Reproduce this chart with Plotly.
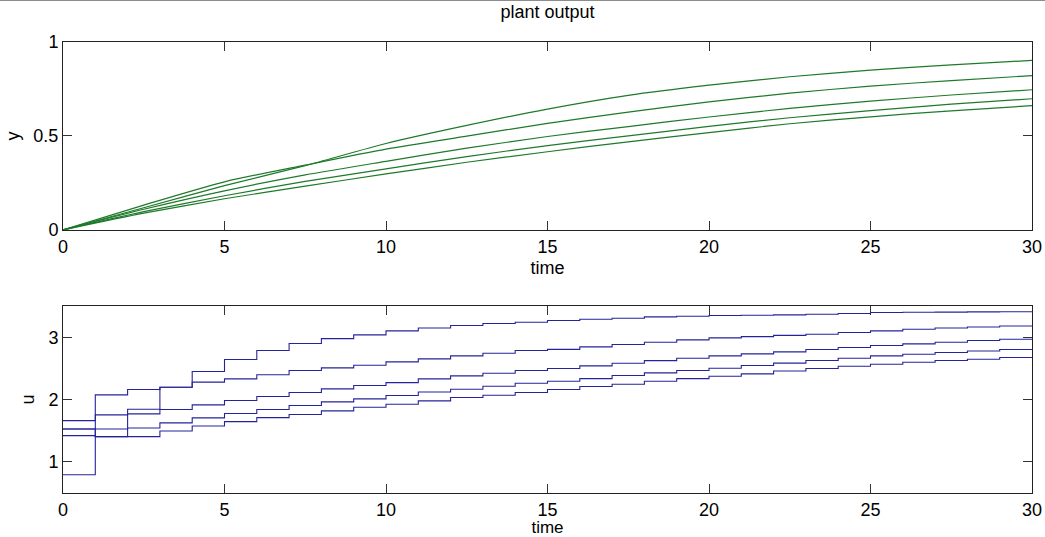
import plotly.graph_objects as go

# ---------------- data ----------------
# plant output y (top panel), sampled every 2.5 time units
t_y = [0, 2.5, 5, 7.5, 10, 12.5, 15, 17.5, 20, 22.5, 25, 27.5, 30]
y1 = [0, 0.118, 0.236, 0.342, 0.460, 0.556, 0.643, 0.716, 0.770, 0.815, 0.850, 0.878, 0.902]
y2 = [0, 0.132, 0.256, 0.345, 0.430, 0.499, 0.567, 0.627, 0.681, 0.728, 0.765, 0.795, 0.821]
y3 = [0, 0.110, 0.208, 0.293, 0.365, 0.435, 0.497, 0.550, 0.601, 0.647, 0.685, 0.718, 0.746]
y4 = [0, 0.097, 0.182, 0.258, 0.325, 0.390, 0.449, 0.500, 0.551, 0.597, 0.635, 0.669, 0.698]
y5 = [0, 0.089, 0.166, 0.233, 0.298, 0.360, 0.416, 0.469, 0.518, 0.565, 0.602, 0.634, 0.661]

# control input u (bottom panel), one value per sample interval [k, k+1)
t_u = list(range(0, 31))
u1 = [1.662, 2.075, 2.161, 2.198, 2.450, 2.643, 2.788, 2.900, 2.978, 3.037,
      3.101, 3.149, 3.187, 3.219, 3.240, 3.268, 3.289, 3.305, 3.326, 3.337,
      3.348, 3.353, 3.358, 3.369, 3.380, 3.396, 3.401, 3.403, 3.406, 3.408]
u2 = [1.528, 1.405, 1.770, 2.198, 2.279, 2.332, 2.397, 2.466, 2.508, 2.551,
      2.604, 2.652, 2.701, 2.743, 2.786, 2.805, 2.845, 2.882, 2.920, 2.957,
      2.989, 3.010, 3.030, 3.048, 3.075, 3.101, 3.128, 3.149, 3.165, 3.181]
u3 = [0.794, 1.753, 1.845, 1.840, 1.914, 1.984, 2.048, 2.113, 2.171, 2.224,
      2.272, 2.331, 2.379, 2.422, 2.465, 2.497, 2.540, 2.582, 2.625, 2.663,
      2.700, 2.732, 2.765, 2.802, 2.834, 2.866, 2.893, 2.920, 2.947, 2.968]
u4 = [1.528, 1.528, 1.544, 1.625, 1.705, 1.775, 1.839, 1.903, 1.962, 2.010,
      2.064, 2.122, 2.166, 2.214, 2.262, 2.294, 2.336, 2.385, 2.428, 2.465,
      2.502, 2.545, 2.585, 2.626, 2.663, 2.700, 2.727, 2.754, 2.780, 2.802]
u5 = [1.421, 1.405, 1.405, 1.496, 1.576, 1.646, 1.710, 1.759, 1.818, 1.877,
      1.925, 1.978, 2.032, 2.069, 2.112, 2.160, 2.208, 2.245, 2.294, 2.336,
      2.374, 2.411, 2.459, 2.497, 2.534, 2.567, 2.599, 2.626, 2.647, 2.674]

x_ticks = [0, 5, 10, 15, 20, 25, 30]
y_ticks_top = [0, 0.5, 1]
y_ticks_top_text = ["0", "0.5", "1"]
u_ticks = [1, 2, 3]

GREEN = "#1e7a2a"
BLUE = "#24249a"
FONT = "Liberation Sans, Arial, sans-serif"

fig = go.Figure()
for ys in (y1, y2, y3, y4, y5):
    fig.add_trace(go.Scatter(x=t_y, y=ys, mode="lines", line=dict(color=GREEN, width=1.2, shape="spline", smoothing=0.7),
                             xaxis="x", yaxis="y", showlegend=False, hoverinfo="skip"))
for us in (u1, u2, u3, u4, u5):
    fig.add_trace(go.Scatter(x=t_u, y=us + [us[-1]], mode="lines", line=dict(color=BLUE, width=1.1, shape="hv"),
                             xaxis="x2", yaxis="y2", showlegend=False, hoverinfo="skip"))

ax = dict(showline=True, linecolor="#222", linewidth=1, mirror="ticks", ticks="inside", ticklen=9,
          tickcolor="#333", tickwidth=1, showgrid=False, zeroline=False,
          tickfont=dict(family=FONT, size=18, color="black"), automargin=False)

TFONT = dict(family=FONT, size=18, color="black")
BFONT = dict(family=FONT, size=17, color="black")

fig.update_layout(
    width=1045, height=537,
    margin=dict(l=63, r=13, t=42, b=44),
    plot_bgcolor="white", paper_bgcolor="white",
    title=dict(text="plant output", x=0.524, xanchor="center", y=0.978, yanchor="middle",
               yref="container", font=dict(family=FONT, size=18, color="black")),
    xaxis=dict(ax, domain=[0, 1], range=[0, 30], tickvals=x_ticks, anchor="y",
               title=dict(text="time", standoff=5, font=TFONT)),
    yaxis=dict(ax, domain=[0.5833, 1], range=[0, 1], tickvals=y_ticks_top, ticktext=y_ticks_top_text, anchor="x",
               title=dict(text="y", standoff=9, font=TFONT)),
    xaxis2=dict(ax, domain=[0, 1], range=[0, 30], tickvals=x_ticks, anchor="y2",
                title=dict(text="time", standoff=9, font=BFONT)),
    yaxis2=dict(ax, domain=[0, 0.4145], range=[0.5, 3.5], tickvals=u_ticks, anchor="x2",
                title=dict(text="u", standoff=9, font=TFONT)),
)
fig.add_shape(type="line", xref="paper", yref="paper", x0=-0.07, x1=1.02, y0=1.0935, y1=1.0935,
              line=dict(color="#666", width=2))

fig.write_html("out.html")
